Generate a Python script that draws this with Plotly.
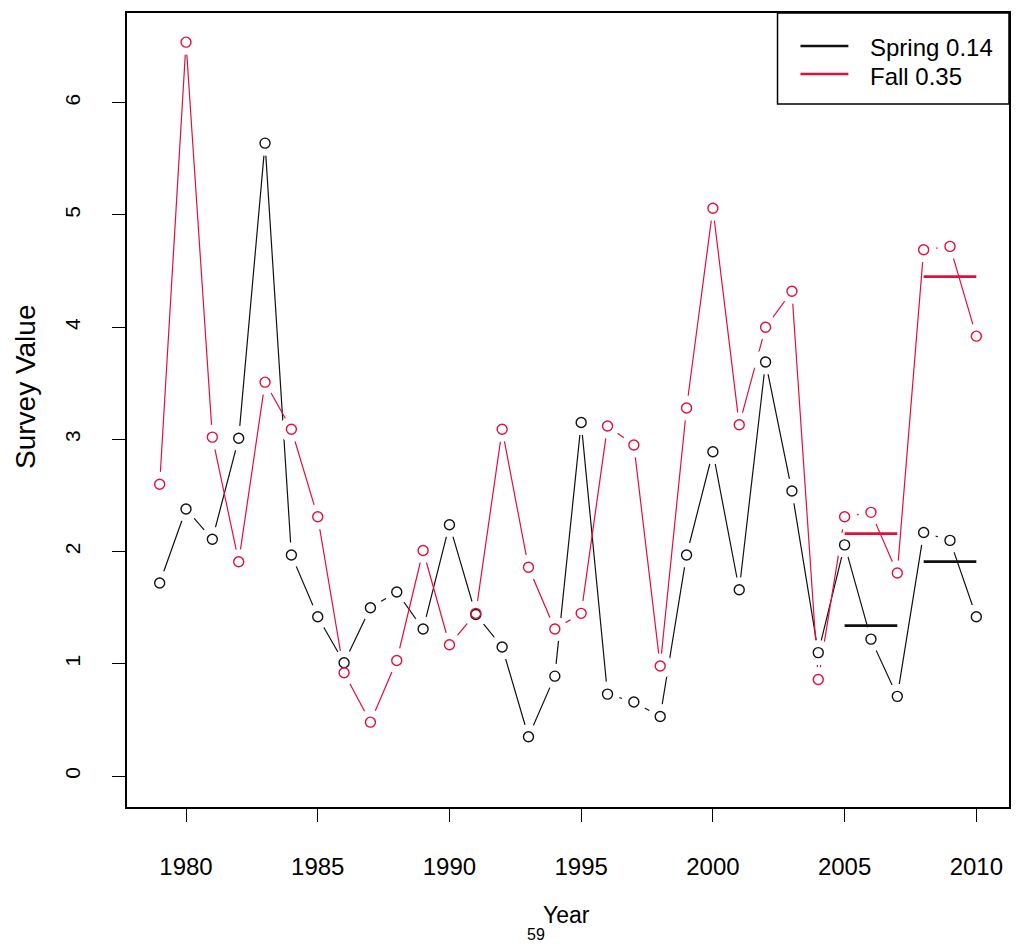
import plotly.graph_objects as go

# ---- data ----
years = list(range(1979, 2011))
spring = [1.72, 2.38, 2.11, 3.01, 5.64, 1.97, 1.42, 1.01, 1.50, 1.64,
          1.31, 2.24, 1.44, 1.15, 0.35, 0.89, 3.15, 0.73, 0.66, 0.53,
          1.97, 2.89, 1.66, 3.69, 2.54, 1.10, 2.06, 1.22, 0.71, 2.17,
          2.10, 1.42]
fall = [2.60, 6.54, 3.02, 1.91, 3.51, 3.09, 2.31, 0.92, 0.48, 1.03,
        2.01, 1.17, 1.45, 3.09, 1.86, 1.31, 1.45, 3.12, 2.95, 0.98,
        3.28, 5.06, 3.13, 4.00, 4.32, 0.86, 2.31, 2.35, 1.81, 4.69,
        4.72, 3.92]
period_start = [2005, 2008]
period_end = [2007, 2010]
spring_means = [1.34, 1.91]
fall_means = [2.16, 4.45]
series_names = ["Spring 0.14", "Fall 0.35"]
x_ticks = [1980, 1985, 1990, 1995, 2000, 2005, 2010]
y_ticks = [0, 1, 2, 3, 4, 5, 6]

BLACK = "#111111"
RED = "#e0103c"
FONT = "Liberation Sans, Arial, sans-serif"

# plot-area geometry in pixels (for converting decoration positions to paper coords)
L, R, T, B = 127, 1011, 13, 807


def px(x):
    return (x - L) / (R - L)


def py(y):
    return (B - y) / (B - T)


fig = go.Figure()

# connecting lines
for vals, col in [(spring, BLACK), (fall, RED)]:
    fig.add_trace(go.Scatter(x=years, y=vals, mode="lines",
                             line=dict(color=col, width=1.2),
                             showlegend=False, hoverinfo="skip"))
# white gaps around points (R type="b")
for vals in [spring, fall]:
    fig.add_trace(go.Scatter(x=years, y=vals, mode="markers",
                             marker=dict(color="white", size=25, opacity=1,
                                         line=dict(width=0)),
                             showlegend=False, hoverinfo="skip"))
# open circles
for vals, col, name in [(spring, BLACK, series_names[0]), (fall, RED, series_names[1])]:
    fig.add_trace(go.Scatter(x=years, y=vals, mode="markers", name=name,
                             marker=dict(symbol="circle-open", color=col, size=10,
                                         line=dict(width=1.4, color=col)),
                             showlegend=False))


def seg(means):
    xs, ys = [], []
    for s, e, m in zip(period_start, period_end, means):
        xs += [s, e, None]
        ys += [m, m, None]
    return xs, ys


for means, col, name in [(spring_means, BLACK, series_names[0]),
                         (fall_means, RED, series_names[1])]:
    xs, ys = seg(means)
    fig.add_trace(go.Scatter(x=xs, y=ys, mode="lines", name=name,
                             line=dict(color=col, width=2.8), showlegend=False))

# legend box drawn like R's legend()
shapes = [
    dict(type="rect", xref="paper", yref="paper", x0=px(779), x1=1, y0=py(104), y1=1,
         line=dict(color="black", width=1.5), fillcolor="white", layer="above"),
    dict(type="line", xref="paper", yref="paper", x0=px(802), x1=px(850),
         y0=py(46), y1=py(46), line=dict(color=BLACK, width=2.5), layer="above"),
    dict(type="line", xref="paper", yref="paper", x0=px(802), x1=px(850),
         y0=py(74), y1=py(74), line=dict(color=RED, width=2.5), layer="above"),
]

annotations = [
    dict(text=series_names[0], xref="paper", yref="paper", x=px(870), y=py(47),
         xanchor="left", yanchor="middle", showarrow=False,
         font=dict(size=24, family=FONT)),
    dict(text=series_names[1], xref="paper", yref="paper", x=px(870), y=py(76),
         xanchor="left", yanchor="middle", showarrow=False,
         font=dict(size=24, family=FONT)),
    dict(text="Year", xref="paper", yref="paper", x=px(567), y=0,
         yshift=-108, xanchor="center", yanchor="middle", showarrow=False,
         font=dict(size=23, family=FONT)),
    dict(text="59", xref="paper", yref="paper", x=px(537), y=0,
         yshift=-127, xanchor="center", yanchor="middle", showarrow=False,
         font=dict(size=16, family=FONT)),
    dict(text="Survey Value", xref="paper", yref="paper", x=0, y=py(387),
         xshift=-102, xanchor="center", yanchor="middle", textangle=-90,
         showarrow=False, font=dict(size=28, family=FONT)),
]

fig.update_layout(
    width=1021, height=952,
    margin=dict(l=L, r=1021 - R, t=T, b=952 - B),
    paper_bgcolor="white", plot_bgcolor="white",
    font=dict(family=FONT, color="black"),
    showlegend=False,
    xaxis=dict(range=[1977.76, 2011.24], tickmode="array", tickvals=x_ticks,
               showgrid=False, zeroline=False, showline=True, linecolor="black",
               linewidth=1.5, mirror=True, ticks="outside", ticklen=13,
               tickwidth=1.3, tickcolor="black", ticklabelstandoff=24,
               tickfont=dict(size=24, family=FONT)),
    yaxis=dict(range=[-0.276, 6.80], tickmode="array", tickvals=y_ticks,
               showgrid=False, zeroline=False, showline=True, linecolor="black",
               linewidth=1.5, mirror=True, ticks="outside", ticklen=13,
               tickwidth=1.3, tickcolor="black", tickangle=-90,
               ticklabelstandoff=24, tickfont=dict(size=21, family=FONT)),
    shapes=shapes,
    annotations=annotations,
)

fig.write_html("out.html")
